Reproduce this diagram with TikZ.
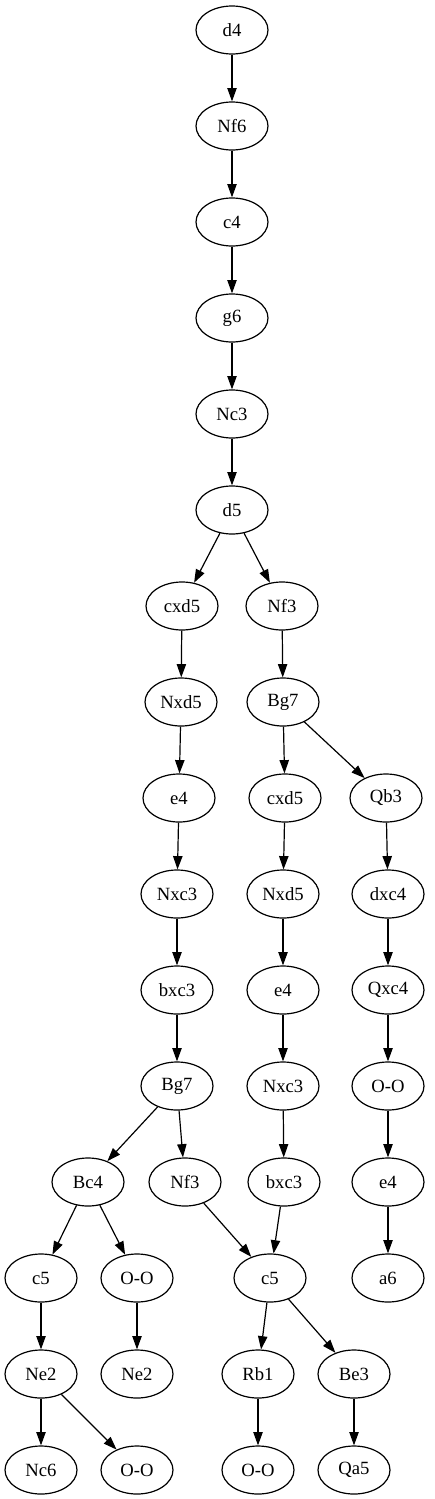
\documentclass[tikz,border=0pt]{standalone}
\usepackage{fontspec}
\setmainfont{Liberation Serif}
\usetikzlibrary{shapes.geometric,arrows.meta}
\tikzset{
  mv/.style={draw, ellipse, line width=0.9pt, minimum width=54pt, minimum height=36pt, inner xsep=3pt, inner ysep=2pt, font=\fontsize{14pt}{16pt}\selectfont},
  edge/.style={line width=0.9pt, -{Triangle[length=10pt,width=7pt]}}
}
\begin{document}
\begin{tikzpicture}[x=0.75pt,y=-0.75pt]
\useasboundingbox (0,0) rectangle (435,1499);
% column 1
\node[mv] (d4) at (232,30) {d4};
\node[mv] (nf6) at (232,126) {Nf6};
\node[mv] (c4) at (232,222) {c4};
\node[mv] (g6) at (232,318) {g6};
\node[mv] (nc3) at (232,414) {Nc3};
\node[mv] (d5) at (232,510) {d5};
% left branch
\node[mv] (cxd5a) at (182,606) {cxd5};
\node[mv] (nxd5a) at (181,702) {Nxd5};
\node[mv] (e4a) at (179,798) {e4};
\node[mv] (nxc3a) at (177,894) {Nxc3};
\node[mv] (bxc3a) at (177,990) {bxc3};
\node[mv] (bg7a) at (177,1086) {Bg7};
\node[mv] (bc4) at (88,1182) {Bc4};
\node[mv] (nf3b) at (185,1182) {Nf3};
\node[mv] (c5a) at (41,1278) {c5};
\node[mv] (ooa) at (137,1278) {O-O};
\node[mv] (ne2a) at (41,1374) {Ne2};
\node[mv] (ne2b) at (137,1374) {Ne2};
\node[mv] (nc6) at (41,1470) {Nc6};
\node[mv] (oob) at (137,1470) {O-O};
% right branch
\node[mv] (nf3a) at (282,606) {Nf3};
\node[mv] (bg7b) at (283,702) {Bg7};
\node[mv] (cxd5b) at (285,798) {cxd5};
\node[mv] (nxd5b) at (283,894) {Nxd5};
\node[mv] (e4b) at (283,990) {e4};
\node[mv] (nxc3b) at (283,1086) {Nxc3};
\node[mv] (bxc3b) at (284,1182) {bxc3};
\node[mv] (c5b) at (270,1278) {c5};
\node[mv] (rb1) at (258,1374) {Rb1};
\node[mv] (be3) at (354,1374) {Be3};
\node[mv] (ooc) at (258,1470) {O-O};
\node[mv] (qa5) at (354,1470) {Qa5};
% far right
\node[mv] (qb3) at (386,798) {Qb3};
\node[mv] (dxc4) at (388,894) {dxc4};
\node[mv] (qxc4) at (388,990) {Qxc4};
\node[mv] (ood) at (388,1086) {O-O};
\node[mv] (e4c) at (388,1182) {e4};
\node[mv] (a6) at (388,1278) {a6};
% edges
\draw[edge] (d4) -- (nf6);
\draw[edge] (nf6) -- (c4);
\draw[edge] (c4) -- (g6);
\draw[edge] (g6) -- (nc3);
\draw[edge] (nc3) -- (d5);
\draw[edge] (d5) -- (cxd5a);
\draw[edge] (d5) -- (nf3a);
\draw[edge] (cxd5a) -- (nxd5a);
\draw[edge] (nxd5a) -- (e4a);
\draw[edge] (e4a) -- (nxc3a);
\draw[edge] (nxc3a) -- (bxc3a);
\draw[edge] (bxc3a) -- (bg7a);
\draw[edge] (bg7a) -- (bc4);
\draw[edge] (bg7a) -- (nf3b);
\draw[edge] (bc4) -- (c5a);
\draw[edge] (bc4) -- (ooa);
\draw[edge] (c5a) -- (ne2a);
\draw[edge] (ooa) -- (ne2b);
\draw[edge] (ne2a) -- (nc6);
\draw[edge] (ne2a) -- (oob);
\draw[edge] (nf3b) -- (c5b);
\draw[edge] (nf3a) -- (bg7b);
\draw[edge] (bg7b) -- (cxd5b);
\draw[edge] (bg7b) -- (qb3);
\draw[edge] (cxd5b) -- (nxd5b);
\draw[edge] (nxd5b) -- (e4b);
\draw[edge] (e4b) -- (nxc3b);
\draw[edge] (nxc3b) -- (bxc3b);
\draw[edge] (bxc3b) -- (c5b);
\draw[edge] (c5b) -- (rb1);
\draw[edge] (c5b) -- (be3);
\draw[edge] (rb1) -- (ooc);
\draw[edge] (be3) -- (qa5);
\draw[edge] (qb3) -- (dxc4);
\draw[edge] (dxc4) -- (qxc4);
\draw[edge] (qxc4) -- (ood);
\draw[edge] (ood) -- (e4c);
\draw[edge] (e4c) -- (a6);
\end{tikzpicture}
\end{document}
